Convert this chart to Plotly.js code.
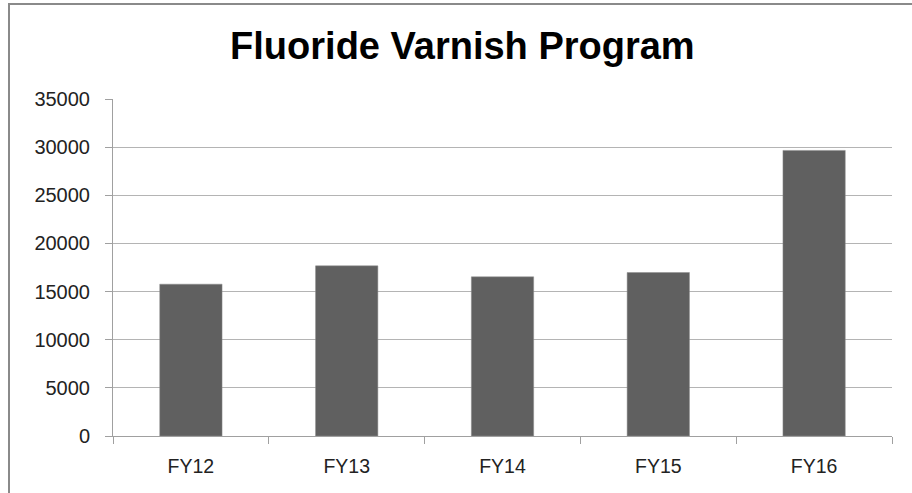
<!DOCTYPE html>
<html>
<head>
<meta charset="utf-8">
<script src="https://cdn.plot.ly/plotly-3.0.1.min.js"></script>
<style>
  html, body { margin: 0; padding: 0; background: #ffffff; }
  #wrap { position: relative; width: 912px; height: 493px; overflow: hidden; }
  #chart { position: absolute; left: 0; top: 0; width: 912px; height: 493px; }
  #frame { position: absolute; left: 8px; top: 3px; width: 1000px; height: 488px;
           border-left: 2px solid #8a8a8a; border-top: 2px solid #8a8a8a;
           border-bottom: 1px solid #e6e6e6; pointer-events: none; }
</style>
</head>
<body>
<div id="wrap">
  <div id="chart"></div>
  <div id="frame"></div>
</div>
<script>
const categories = ["FY12", "FY13", "FY14", "FY15", "FY16"];
const values = [15770, 17670, 16530, 16980, 29660];
const yTicks = [0, 5000, 10000, 15000, 20000, 25000, 30000, 35000];
const chartTitle = "Fluoride Varnish Program";

const trace = {
  type: "bar",
  x: categories,
  y: values,
  marker: { color: "#606060", line: { color: "#8c8c8c", width: 0.5 } },
  hoverinfo: "x+y"
};

const layout = {
  width: 912,
  height: 493,
  paper_bgcolor: "#ffffff",
  plot_bgcolor: "#ffffff",
  margin: { l: 113, r: 20, t: 99, b: 57 },
  bargap: 0.6,
  showlegend: false,
  font: { family: "Liberation Sans, Arial, sans-serif", color: "#222222", size: 19 },
  title: {
    text: "<b>" + chartTitle + "</b>",
    font: { family: "Liberation Sans, Arial, sans-serif", size: 38, color: "#000000" },
    x: 0.507, xanchor: "center",
    y: 0.907, yanchor: "middle", yref: "container"
  },
  xaxis: {
    type: "category",
    tickson: "boundaries",
    ticks: "outside",
    ticklen: 7,
    tickcolor: "#a0a0a0",
    showline: true,
    linecolor: "#a0a0a0",
    linewidth: 1,
    showgrid: false,
    tickfont: { size: 19.5, color: "#222222" },
    ticklabelstandoff: 13,
    fixedrange: true
  },
  yaxis: {
    range: [0, 35000],
    tickvals: yTicks,
    ticktext: yTicks.map(String),
    ticks: "outside",
    ticklen: 7,
    tickcolor: "#a0a0a0",
    showline: true,
    linecolor: "#a0a0a0",
    linewidth: 1,
    showgrid: true,
    gridcolor: "#b4b4b4",
    gridwidth: 1,
    zeroline: false,
    tickfont: { size: 20, color: "#222222" },
    ticklabelstandoff: 11,
    fixedrange: true
  }
};

Plotly.newPlot("chart", [trace], layout, { displayModeBar: false, staticPlot: true });
</script>
</body>
</html>
